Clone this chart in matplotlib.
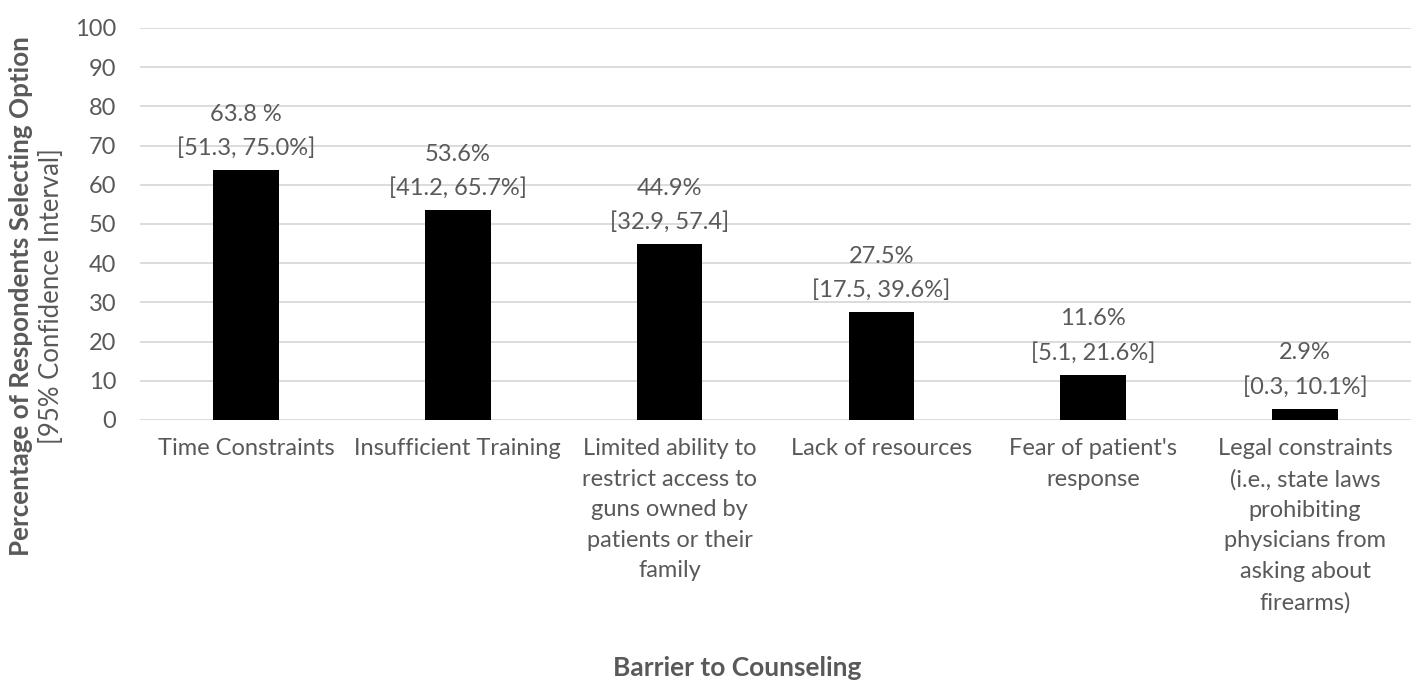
import matplotlib

matplotlib.use("Agg")
import matplotlib.pyplot as plt

TEXT = "#595959"
GRID = "#d9d9d9"

categories = [
    "Time Constraints",
    "Insufficient Training",
    "Limited ability to\nrestrict access to\nguns owned by\npatients or their\nfamily",
    "Lack of resources",
    "Fear of patient's\nresponse",
    "Legal constraints\n(i.e., state laws\nprohibiting\nphysicians from\nasking about\nfirearms)",
]
percent = [63.8, 53.6, 44.9, 27.5, 11.6, 2.9]
value_labels = ["63.8 %", "53.6%", "44.9%", "27.5%", "11.6%", "2.9%"]
ci_labels = [
    "[51.3, 75.0%]",
    "[41.2, 65.7%]",
    "[32.9, 57.4]",
    "[17.5, 39.6%]",
    "[5.1, 21.6%]",
    "[0.3, 10.1%]",
]
yticks = list(range(0, 101, 10))

plt.rcParams["font.family"] = ["Lato", "DejaVu Sans"]

fig = plt.figure(figsize=(14.18, 6.98), dpi=100)
ax = fig.add_axes([140 / 1418, 1 - 420 / 698, 1271 / 1418, 392 / 698])

x = list(range(len(categories)))
ax.bar(x, percent, width=0.31, color="black", zorder=3)
ax.set_xlim(-0.5, len(categories) - 0.5)
ax.set_ylim(0, 100)
ax.set_yticks(yticks)
ax.yaxis.grid(True, color=GRID, linewidth=1.3, zorder=0)
ax.set_axisbelow(True)
for s in ax.spines.values():
    s.set_visible(False)
ax.tick_params(axis="both", length=0, labelsize=17, colors=TEXT)
ax.tick_params(axis="y", pad=17)
ax.tick_params(axis="x", pad=13)
ax.set_xticks(x)
ax.set_xticklabels(categories, linespacing=1.56, ha="center", va="top")

for xi, v, lab, ci in zip(x, percent, value_labels, ci_labels):
    ax.annotate(
        f"{lab}\n{ci}",
        (xi, v),
        xytext=(0, 8),
        textcoords="offset points",
        ha="center",
        va="bottom",
        fontsize=17,
        color=TEXT,
        linespacing=1.7,
        zorder=4,
    )

fig.text(21 / 1418, 1 - 296 / 698, "Percentage of Respondents Selecting Option",
         rotation=90, ha="center", va="center", fontsize=18.7, fontweight="bold", color=TEXT)
fig.text(52 / 1418, 1 - 296 / 698, "[95% Confidence Interval]",
         rotation=90, ha="center", va="center", fontsize=18.5, color=TEXT)
fig.text(737 / 1418, 1 - 668 / 698, "Barrier to Counseling",
         ha="center", va="center", fontsize=19, fontweight="bold", color=TEXT)

fig.savefig("out.png", dpi=100)
